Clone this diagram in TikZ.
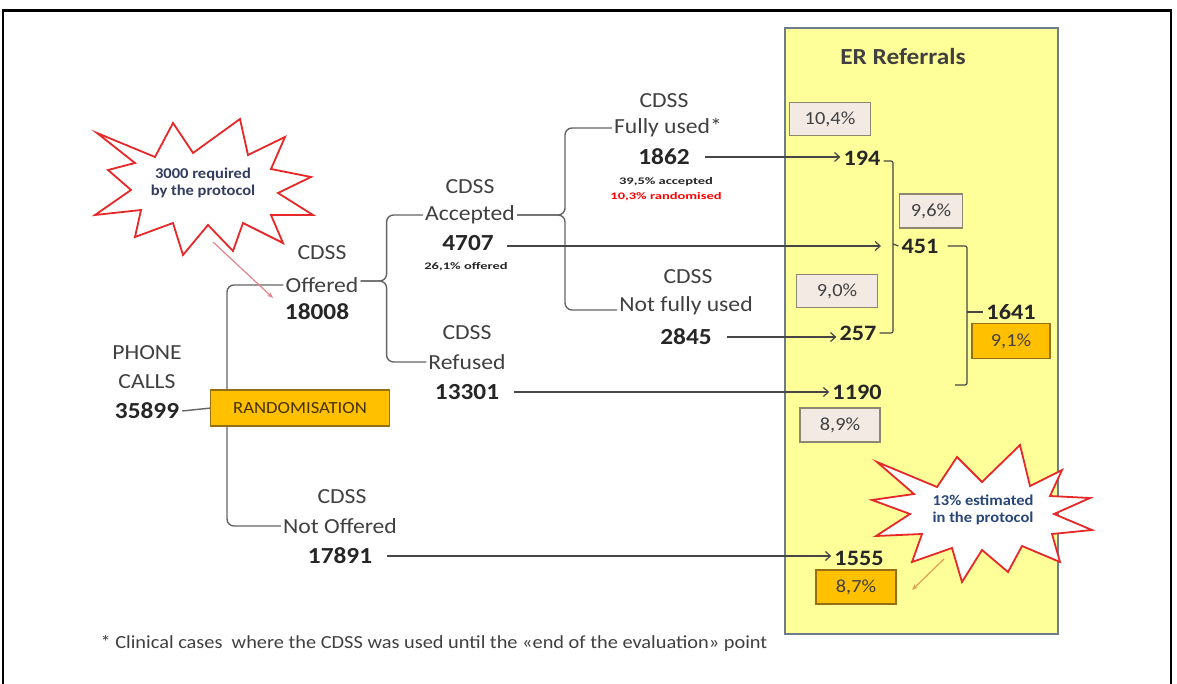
\documentclass[tikz,border=0pt]{standalone}
\usepackage{fontspec}
\setmainfont{Carlito}[FakeStretch=1.1]
\newfontfamily\widefont{Carlito}[FakeStretch=1.45]
\usetikzlibrary{arrows.meta}
\newcommand{\fsz}[1]{\fontsize{#1}{#1}\selectfont}
\definecolor{labgray}{RGB}{64,64,64}
\definecolor{numdark}{RGB}{38,38,38}
\definecolor{panelfill}{RGB}{255,255,153}
\definecolor{panelborder}{RGB}{110,125,140}
\definecolor{pctfill}{RGB}{244,234,228}
\definecolor{pctborder}{RGB}{140,135,110}
\definecolor{orange1}{RGB}{255,192,0}
\definecolor{orangeborder}{RGB}{150,110,20}
\definecolor{linegray}{RGB}{100,100,100}
\definecolor{arrgray}{RGB}{70,70,70}
\definecolor{starred}{RGB}{230,40,40}
\definecolor{startxt}{RGB}{50,60,95}
\definecolor{pinkarr}{RGB}{232,130,140}
\definecolor{orarr}{RGB}{225,160,80}
\begin{document}
\begin{tikzpicture}[x=1pt,y=-1pt,
  lbl/.style={font=\fsz{21.5}, text=labgray, inner sep=2pt},
  num/.style={font=\fsz{23}\bfseries, text=numdark, inner sep=3pt},
  pnum/.style={font=\fsz{22}\bfseries, text=numdark, inner sep=3pt},
  tiny/.style={font=\widefont\fsz{10}\bfseries, inner sep=1pt},
  pct/.style={draw=pctborder, fill=pctfill, line width=1.5pt, font=\fsz{18.5}, text=labgray, minimum height=33pt, inner sep=0pt},
  opct/.style={pct, fill=orange1, draw=orangeborder},
  br/.style={draw=linegray, line width=1.4pt, rounded corners=7pt},
  brk/.style={draw=arrgray, line width=1.2pt, rounded corners=2pt},
  arr/.style={draw=arrgray, line width=1.2pt, -{Straight Barb[length=5pt,width=9pt]}},
  starsty/.style={draw=starred, fill=white, line width=1.8pt, line join=miter},
  startext/.style={font=\fsz{15}\bfseries, text=startxt, align=center, inner sep=0pt}
]
\useasboundingbox (0,0) rectangle (1177,684);
\fill[white] (0,0) rectangle (1177,684);
% outer frame
\draw[black, line width=2.2pt] (3,700) -- (3,10.5) -- (1171,10.5) -- (1171,700);
% ER panel
\draw[fill=panelfill, draw=panelborder, line width=2pt] (785,28) rectangle (1058,634);
\node[font=\fsz{23}\bfseries, text=labgray] (er) at (903,57) {ER Referrals};

% left labels
\node[lbl] (phone) at (147,353) {PHONE};
\node[lbl] (calls) at (147,382) {CALLS};
\node[num] (n35899) at (147,411) {35899};

\node[lbl] (offC) at (322,253) {CDSS};
\node[lbl] (off) at (322,285) {Offered};
\node[num] (n18008) at (317,312) {18008};

\node[lbl] (accC) at (470,187) {CDSS};
\node[lbl] (acc) at (470,215) {Accepted};
\node[num] (n4707) at (468,243) {4707};
\node[tiny, text=numdark] (s261) at (466,267) {26,1\% offered};

\node[lbl] (refC) at (467,333) {CDSS};
\node[lbl] (ref) at (467,362) {Refused};
\node[num] (n13301) at (467,392) {13301};

\node[lbl] (fulC) at (664,101) {CDSS};
\node[lbl] (ful) at (668,128) {Fully used*};
\node[num] (n1862) at (664,157) {1862};
\node[tiny, text=numdark] (s395) at (666,182) {39,5\% accepted};
\node[tiny, text=red] (s103) at (666,197) {10,3\% randomised};

\node[lbl] (nfuC) at (688,277) {CDSS};
\node[lbl] (nfu) at (686,306) {Not fully used};
\node[num] (n2845) at (686,337) {2845};

\node[lbl] (noC) at (342,497) {CDSS};
\node[lbl] (no) at (340,526) {Not Offered};
\node[num] (n17891) at (340,556) {17891};

% panel numbers
\node[pnum] (n194) at (862,158) {194};
\node[pnum] (n451) at (920,246) {451};
\node[pnum] (n257) at (858,333) {257};
\node[pnum] (n1641) at (1011,312) {1641};
\node[pnum] (n1190) at (857,392) {1190};
\node[pnum] (n1555) at (859,558) {1555};

% percentage boxes
\node[pct, minimum width=81pt] (p104) at (830,119) {10,4\%};
\node[pct, minimum width=63pt, minimum height=34pt] (p96) at (931,211) {9,6\%};
\node[pct, minimum width=81pt] (p90) at (837,291) {9,0\%};
\node[opct, minimum width=78pt, minimum height=35pt] (p91) at (1011,341) {9,1\%};
\node[pct, minimum width=80pt, minimum height=34pt] (p89) at (840,425) {8,9\%};
\node[opct, minimum width=80pt, minimum height=34pt] (p87) at (856,587) {8,7\%};

% tree connectors
\coordinate (lx) at (227,0);
\draw[br] (off.west) -- (off.west -| lx) -- (no.west -| lx) -- (no.west);
\draw[br] (n35899.east) -- (211,408);
\node[draw=orangeborder, fill=orange1, line width=1.4pt, minimum width=179pt, minimum height=36pt, font=\fsz{17}, text={rgb,255:red,70;green,50;blue,0}, inner sep=0pt] (rand) at (300,408) {RANDOMISATION};

\draw[br] ([yshift=4pt]off.east) -- ++(26,0) |- (acc.west);
\draw[br] ([yshift=4pt]off.east) -- ++(26,0) |- (ref.west);
\draw[br] (acc.east) -- ++(48,0) |- (ful.west);
\draw[br] (acc.east) -- ++(48,0) |- ([yshift=-4pt]nfu.west);

% arrows to panel
\coordinate (b1tip) at (881,0);
\draw[arr, shorten <=12pt] (n1862.east) -- (n1862.east -| n194.west);
\draw[arr, shorten <=10pt] ([yshift=-3pt]n4707.east) -- ([yshift=-3pt]n4707.east -| b1tip);
\draw[arr, shorten <=12pt] (n2845.east) -- (n2845.east -| n257.west);
\draw[arr, shorten <=12pt] (n13301.east) -- (n13301.east -| n1190.west);
\draw[arr, shorten <=12pt] (n17891.east) -- (n17891.east -| n1555.west);

% brackets in panel
\coordinate (bA) at (893,244);
\draw[brk] ([yshift=-3pt]n194.east) -| (bA) |- (n257.east);
\draw[brk] (bA) -- (n451.west);
\coordinate (bB) at (967,312);
\coordinate (bBend) at (955,385);
\draw[brk, shorten <=6pt] (n451.east) -| (bB) |- (bBend);
\draw[brk] (bB) -- (n1641.west);

% star 1
\begin{scope}[shift={(203,185)}]
\draw[starsty] (-106,-52) -- (-48,-28) -- (-30,-62) -- (-10,-32) -- (37,-66) -- (45,-30) -- (82,-48) -- (68,-16) -- (108,-8) -- (75,8) -- (110,30) -- (68,30) -- (80,58) -- (40,38) -- (30,66) -- (5,40) -- (-20,70) -- (-30,38) -- (-68,52) -- (-62,25) -- (-108,30) -- (-72,5) -- (-95,-15) -- (-68,-22) -- cycle;
\end{scope}
\node[startext] (s1) at (203,183) {3000 required\\[2pt]by the protocol};
\coordinate (s1a) at (213,242);
\coordinate (s1b) at (273,298);
\draw[pinkarr, line width=1.2pt, -{Stealth[length=6pt]}] (s1a) -- (s1b);

% star 2
\begin{scope}[shift={(982,512)}]
\draw[starsty] (-105,-50) -- (-45,-25) -- (-25,-55) -- (0,-30) -- (38,-67) -- (48,-26) -- (80,-42) -- (68,-16) -- (108,-14) -- (72,2) -- (110,18) -- (70,22) -- (78,50) -- (40,34) -- (26,60) -- (0,38) -- (-20,70) -- (-30,36) -- (-70,50) -- (-60,22) -- (-106,24) -- (-72,2) -- (-110,-12) -- (-68,-18) -- cycle;
\end{scope}
\node[startext, text={rgb,255:red,40;green,70;blue,120}] (s2) at (983,510) {13\% estimated\\[2pt]in the protocol};
\coordinate (s2a) at (944,559);
\coordinate (s2b) at (912,590);
\draw[orarr, line width=1.2pt, -{Stealth[length=6pt]}] (s2a) -- (s2b);

% footer
\node[font=\fsz{18.5}, text=labgray, inner sep=0pt] (foot) at (434,643) {* Clinical cases\ \ where the CDSS was used until the «end of the evaluation» point};
\end{tikzpicture}
\end{document}
